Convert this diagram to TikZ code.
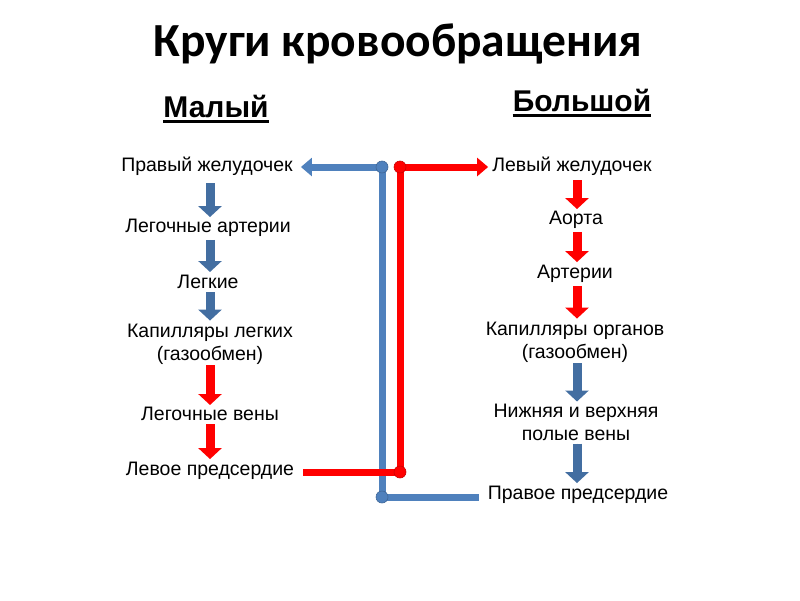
\documentclass[tikz,border=0pt]{standalone}
\usepackage{fontspec}
\setmainfont{Liberation Sans}
\newfontfamily\titlefont{Carlito}
\usetikzlibrary{arrows.meta}
\definecolor{cblue}{HTML}{4F81BD}
\definecolor{cred}{HTML}{FF0000}
\tikzset{
  lbl/.style={inner sep=0pt, font=\fontsize{19.5}{23}\selectfont, align=center},
  head/.style={inner sep=0pt, font=\fontsize{30}{33}\selectfont\bfseries},
  uline/.style={draw=black, line width=2.6pt},
  barrow/.style={draw=cblue!85!black, fill=cblue, line width=9pt, -{Triangle[length=11pt,width=23pt]}},
  rarrow/.style={draw=cred, line width=9pt, -{Triangle[length=11pt,width=23pt]}},
  bline/.style={draw=cblue, line width=7pt},
  rline/.style={draw=cred, line width=7pt},
  bdot/.style={circle, fill=cblue, draw=cblue!80!black, line width=0.6pt, minimum size=12pt, inner sep=0pt},
  rdot/.style={circle, fill=cred, draw=cred!80!black, line width=0.6pt, minimum size=12pt, inner sep=0pt},
}
\begin{document}
\begin{tikzpicture}[x=1pt,y=-1pt]
\useasboundingbox (0,0) rectangle (800,600);
\node[inner sep=0pt, font=\titlefont\fontsize{47.5}{50}\selectfont\bfseries] (title) at (398,44) {Круги кровообращения};
\node[head] (small) at (216,106) {Малый};
\node[head] (big) at (582,100) {Большой};
\draw[uline] ([yshift=-4pt]small.south west) -- ([yshift=-4pt]small.south east);
\draw[uline] ([yshift=-4pt]big.south west) -- ([yshift=-4pt]big.south east);

% left column
\node[lbl] (l1) at (207,166) {Правый желудочек};
\node[lbl] (l2) at (208,228) {Легочные артерии};
\node[lbl] (l3) at (208,282) {Легкие};
\node[lbl] (l4) at (210,344) {Капилляры легких\\(газообмен)};
\node[lbl] (l5) at (210,414) {Легочные вены};
\node[lbl] (l6) at (210,471) {Левое предсердие};

% right column
\node[lbl] (r1) at (572,166) {Левый желудочек};
\node[lbl] (r2) at (576,220) {Аорта};
\node[lbl] (r3) at (575,274) {Артерии};
\node[lbl] (r4) at (575,342) {Капилляры органов\\(газообмен)};
\node[lbl] (r5) at (576,422) {Нижняя и верхняя\\полые вены};
\node[lbl] (r6) at (578,495) {Правое предсердие};

% vertical step arrows, left
\draw[barrow] ([xshift=3pt,yshift=-8pt]l1.south) -- ([xshift=2pt,yshift=2pt]l2.north);
\draw[barrow] ([xshift=2pt,yshift=-3pt]l2.south) -- ([xshift=2pt,yshift=3pt]l3.north);
\draw[barrow] ([xshift=2pt,yshift=-3pt]l3.south) -- ([xshift=0pt,yshift=3pt]l4.north);
\draw[rarrow] ([xshift=0pt,yshift=-1pt]l4.south) -- ([xshift=0pt,yshift=2pt]l5.north);
\draw[rarrow] ([xshift=0pt,yshift=-3pt]l5.south) -- ([xshift=0pt,yshift=3pt]l6.north);

% vertical step arrows, right
\draw[rarrow] ([xshift=5pt,yshift=-5pt]r1.south) -- ([xshift=1pt,yshift=2pt]r2.north);
\draw[rarrow] ([xshift=1pt,yshift=-3pt]r2.south) -- ([xshift=2pt,yshift=3pt]r3.north);
\draw[rarrow] ([xshift=2pt,yshift=-3pt]r3.south) -- ([xshift=2pt,yshift=3pt]r4.north);
\draw[barrow] ([xshift=2pt,yshift=-1pt]r4.south) -- ([xshift=1pt,yshift=2pt]r5.north);
\draw[barrow] ([xshift=1pt,yshift=-3pt]r5.south) -- ([xshift=-1pt,yshift=3pt]r6.north);

% connector junctions
\coordinate (bt) at (382,167);
\coordinate (bb) at (382,497);
\coordinate (rt) at (400,167);
\coordinate (rb) at (400,472);

% blue circuit
\draw[bline] (bt) -- (bb);
\draw[bline] (bb) -- (479,497);
\draw[draw=cblue, line width=7pt, -{Triangle[length=11pt,width=18pt]}] (bt) -- ([xshift=8pt]l1.east |- bt);
% red circuit
\draw[rline] (303,472) -- (rb);
\draw[draw=cred, line width=7pt, -{Triangle[length=11pt,width=18pt]}] (rt) -- ([xshift=-4pt]r1.west |- rt);
\draw[rline] (rt) -- (rb);

\node[bdot] (dbt) at (bt) {};
\node[bdot] (dbb) at (bb) {};
\node[rdot] (drt) at (rt) {};
\node[rdot] (drb) at (rb) {};
\end{tikzpicture}
\end{document}
